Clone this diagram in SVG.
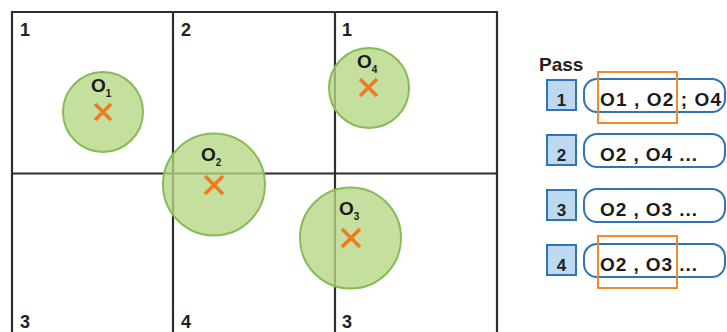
<svg xmlns="http://www.w3.org/2000/svg" width="727" height="332" viewBox="0 0 727 332">
<style>
.grid{stroke:#2e2e2e;stroke-width:2.2;fill:none}
.cell{font-family:"Liberation Sans",Arial,sans-serif;font-weight:bold;font-size:18px;fill:#222}
.zone{fill:#b5d783;fill-opacity:0.78;stroke:#86bb55;stroke-width:2}
.cross{stroke:#f07a1e;stroke-width:3.6;stroke-linecap:butt}
.olab{font-family:"Liberation Sans",Arial,sans-serif;font-weight:bold;font-size:19px;fill:#1a1a1a}
.sub{font-size:10px}
.pass{font-family:"Liberation Sans",Arial,sans-serif;font-weight:bold;font-size:19px;fill:#222}
.box{fill:#bcd9f0;stroke:#2f74b5;stroke-width:2}
.pill{fill:#fff;stroke:#2f74b5;stroke-width:2}
.num{font-family:"Liberation Sans",Arial,sans-serif;font-weight:bold;font-size:17px;fill:#222;text-anchor:middle}
.ptxt{font-family:"Liberation Sans",Arial,sans-serif;font-weight:bold;font-size:19px;fill:#1a1a1a}
.hl{fill:none;stroke:#f08a2a;stroke-width:2}
</style>
<g id="grid">
<path class="grid" d="M12,340 V12 H497 V340 M173,12 V340 M335,12 V340 M12,173.5 H497"/>
<text class="cell" x="20" y="36">1</text>
<text class="cell" x="181" y="36">2</text>
<text class="cell" x="342" y="36">1</text>
<text class="cell" x="20" y="328">3</text>
<text class="cell" x="181" y="328">4</text>
<text class="cell" x="342" y="328">3</text>
</g>
<g id="O1">
<circle class="zone" cx="103" cy="112" r="40"/>
<path class="cross" d="M95,104 L111,120 M111,104 L95,120"/>
<text class="olab" x="91" y="92">O<tspan class="sub" dy="5">1</tspan></text>
</g>
<g id="O2">
<circle class="zone" cx="214" cy="184.5" r="51"/>
<path class="cross" d="M205,176 L223,194 M223,176 L205,194"/>
<text class="olab" x="201" y="161">O<tspan class="sub" dy="5">2</tspan></text>
</g>
<g id="O4">
<circle class="zone" cx="369" cy="88" r="40"/>
<path class="cross" d="M360,79 L377,96 M377,79 L360,96"/>
<text class="olab" x="357" y="68">O<tspan class="sub" dy="5">4</tspan></text>
</g>
<g id="O3">
<circle class="zone" cx="350.5" cy="238" r="50.5"/>
<path class="cross" d="M342,229 L360,247 M360,229 L342,247"/>
<text class="olab" x="339" y="215">O<tspan class="sub" dy="5">3</tspan></text>
</g>
<g id="connectors"></g>
<g id="pass-title">
<text class="pass" x="539" y="71">Pass</text>
</g>
<g id="pass1">
<rect class="box" x="547" y="80" width="29" height="30"/>
<text class="num" x="561.5" y="106">1</text>
<rect class="pill" x="584" y="79" width="141" height="33" rx="13"/>
<text class="ptxt" x="600" y="106" textLength="121" lengthAdjust="spacing">O1 , O2 ; O4</text>
<rect class="hl" x="598" y="72" width="79" height="51"/>
</g>
<g id="pass2">
<rect class="box" x="547" y="135" width="29" height="30"/>
<text class="num" x="561.5" y="161">2</text>
<rect class="pill" x="584" y="134" width="141" height="33" rx="13"/>
<text class="ptxt" x="600" y="161" textLength="97" lengthAdjust="spacing">O2 , O4 ...</text>
</g>
<g id="pass3">
<rect class="box" x="547" y="190" width="29" height="30"/>
<text class="num" x="561.5" y="216">3</text>
<rect class="pill" x="584" y="189" width="141" height="33" rx="13"/>
<text class="ptxt" x="600" y="216" textLength="97" lengthAdjust="spacing">O2 , O3 ...</text>
</g>
<g id="pass4">
<rect class="box" x="547" y="245" width="29" height="30"/>
<text class="num" x="561.5" y="271">4</text>
<rect class="pill" x="584" y="244" width="141" height="33" rx="13"/>
<text class="ptxt" x="600" y="271" textLength="97" lengthAdjust="spacing">O2 , O3 ...</text>
<rect class="hl" x="598" y="236" width="79" height="52"/>
</g>
</svg>
